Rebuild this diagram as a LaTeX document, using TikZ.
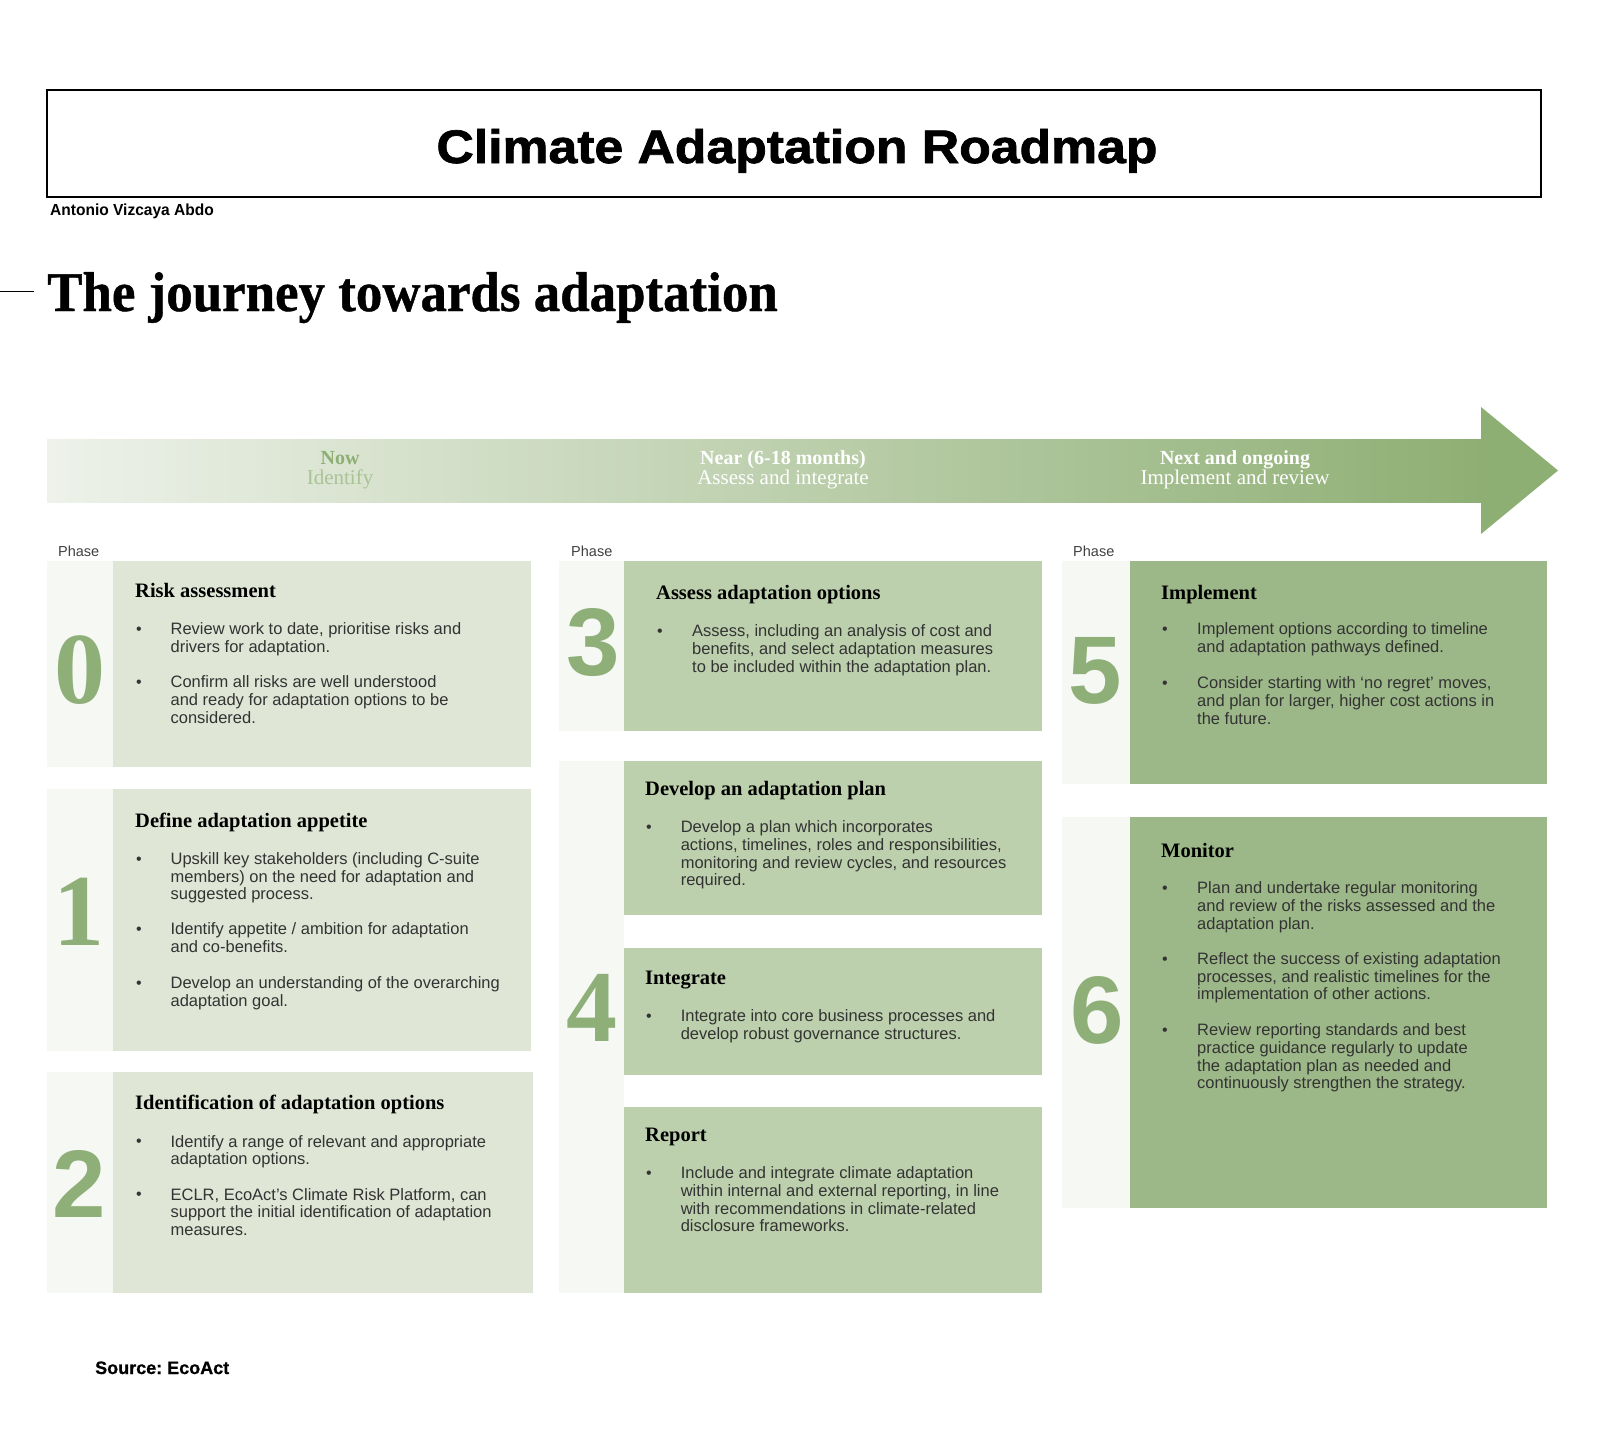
\documentclass[tikz,border=0pt]{standalone}
\usepackage{fontspec}
\setmainfont{Liberation Serif}
\setsansfont{Liberation Sans}
\definecolor{colA}{HTML}{DFE6D6}
\definecolor{colB}{HTML}{BDD0AD}
\definecolor{colC}{HTML}{9DB888}
\definecolor{stripc}{HTML}{F6F8F4}
\definecolor{arrowL}{HTML}{EEF2EA}
\definecolor{arrowM}{HTML}{C6D6B8}
\definecolor{arrowR}{HTML}{8EAF74}
\definecolor{digitc}{HTML}{8FAF78}
\definecolor{bodytxt}{HTML}{333333}
\definecolor{nowc}{HTML}{8DAF73}
\definecolor{identc}{HTML}{A9C395}
\newcommand\bulitem[5]{%
  \node[bul] (#1b) at (#2,#4+7) {•};
  \node[body] (#1) at (#3,#4-6) {\rule{0pt}{13pt}#5};
}
\frenchspacing
\begin{document}
\begin{tikzpicture}[x=1pt,y=-1pt,
  body/.style={font=\sffamily\fontsize{16.5}{17.7}\selectfont, text=bodytxt, align=left, anchor=north west, inner sep=0pt},
  boxtitle/.style={font=\rmfamily\bfseries\fontsize{20.5}{24}\selectfont, anchor=base west, inner sep=0pt, text=black},
  digser/.style={font=\rmfamily\bfseries\fontsize{102}{102}\selectfont, text=digitc, inner sep=0pt},
  digsan/.style={font=\sffamily\bfseries\fontsize{96}{96}\selectfont, text=digitc, inner sep=0pt},
  bul/.style={font=\sffamily\fontsize{16}{16}\selectfont, anchor=base, inner sep=0pt, text=bodytxt},
  phaselbl/.style={font=\sffamily\fontsize{14.5}{16}\selectfont, text=black!75, anchor=base west, inner sep=0pt},
  bandbold/.style={font=\rmfamily\bfseries\fontsize{20}{22}\selectfont, anchor=base, inner sep=0pt},
  bandreg/.style={font=\rmfamily\fontsize{21}{22}\selectfont, anchor=base, inner sep=0pt}]
\useasboundingbox (0,0) rectangle (1600,1432);
\fill[white] (0,0) rectangle (1600,1432);

% header
\draw[line width=1.5pt] (47,90) rectangle (1541,197);
\node[font=\sffamily\bfseries\fontsize{47}{50}\selectfont\addfontfeature{FakeBold=1.5}, anchor=base, inner sep=0pt] (title) at (797,163) {\scalebox{1.1}[1]{Climate Adaptation Roadmap}};
\node[font=\sffamily\bfseries\fontsize{16}{18}\selectfont, anchor=base west, inner sep=0pt] (author) at (50,215) {\scalebox{0.97}[1]{Antonio Vizcaya Abdo}};
\coordinate (dashA) at (0,291);
\coordinate (dashB) at (34,291);
\draw[line width=1pt] (dashA) -- (dashB);
\node[font=\rmfamily\bfseries\fontsize{56}{60}\selectfont\addfontfeature{FakeBold=0.8}, anchor=base west, inner sep=0pt] (journey) at (47,311) {\scalebox{0.945}[1]{The journey towards adaptation}};

% arrow band
\shade[left color=arrowL, middle color=arrowM, right color=arrowR] (47,439) rectangle (1482,502);
\fill[arrowR] (1481,407) -- (1558,470.5) -- (1481,534) -- cycle;
\node[bandbold, text=nowc] (now) at (340,464) {Now};
\node[bandreg, text=identc] (identify) at (340,484) {Identify};
\node[bandbold, text=white] (near) at (783,464) {Near (6-18 months)};
\node[bandreg, text=white] (assess) at (783,484) {Assess and integrate};
\node[bandbold, text=white] (next) at (1235,464) {Next and ongoing};
\node[bandreg, text=white] (impl) at (1235,484) {Implement and review};

% phase labels
\node[phaselbl] (ph1) at (58,556) {Phase};
\node[phaselbl] (ph2) at (571,556) {Phase};
\node[phaselbl] (ph3) at (1073,556) {Phase};

% column 1 boxes
\fill[stripc] (47,561) rectangle (113,767);
\fill[colA] (113,561) rectangle (531,767);
\fill[stripc] (47,789) rectangle (113,1051);
\fill[colA] (113,789) rectangle (531,1051);
\fill[stripc] (47,1072) rectangle (113,1293);
\fill[colA] (113,1072) rectangle (533,1293);

% column 2 boxes
\fill[stripc] (559,561) rectangle (624,731);
\fill[colB] (624,561) rectangle (1042,731);
\fill[stripc] (559,761) rectangle (624,1293);
\fill[colB] (624,761) rectangle (1042,915);
\fill[colB] (624,948) rectangle (1042,1075);
\fill[colB] (624,1107) rectangle (1042,1293);

% column 3 boxes
\fill[stripc] (1062,561) rectangle (1130,784);
\fill[colC] (1130,561) rectangle (1547,784);
\fill[stripc] (1062,817) rectangle (1130,1208);
\fill[colC] (1130,817) rectangle (1547,1208);

% digits
\node[digser] (d0) at (80,670) {0};
\node[digser] (d1) at (79,912) {1};
\node[digsan] (d2) at (79,1184) {2};
\node[digsan] (d3) at (593,643) {3};
\node[digser] (d4) at (592,1008) {4};
\node[digsan] (d5) at (1095,671) {5};
\node[digsan] (d6) at (1097,1010) {6};

% box titles
\node[boxtitle] (t0) at (135,597) {Risk assessment};
\node[boxtitle] (t1) at (135,827) {Define adaptation appetite};
\node[boxtitle] (t2) at (135,1109.5) {Identification of adaptation options};
\node[boxtitle] (t3) at (656,599) {Assess adaptation options};
\node[boxtitle] (t4a) at (645,795) {Develop an adaptation plan};
\node[boxtitle] (t4b) at (645,984) {Integrate};
\node[boxtitle] (t4c) at (645,1141) {Report};
\node[boxtitle] (t5) at (1161,599) {Implement};
\node[boxtitle] (t6) at (1161,857.5) {Monitor};

% bullets column 1
\bulitem{b0a}{139}{170.4}{627.6}{Review work to date, prioritise risks and\\drivers for adaptation.}
\bulitem{b0b}{139}{170.4}{680.6}{Confirm all risks are well understood\\and ready for adaptation options to be\\considered.}
\bulitem{b1a}{139}{170.4}{857.1}{Upskill key stakeholders (including C-suite\\members) on the need for adaptation and\\suggested process.}
\bulitem{b1b}{139}{170.4}{927.5}{Identify appetite / ambition for adaptation\\and co-benefits.}
\bulitem{b1c}{139}{170.4}{981.6}{Develop an understanding of the overarching\\adaptation goal.}
\bulitem{b2a}{139}{170.4}{1139.8}{Identify a range of relevant and appropriate\\adaptation options.}
\bulitem{b2b}{139}{170.4}{1192.9}{ECLR, EcoAct’s Climate Risk Platform, can\\support the initial identification of adaptation\\measures.}

% bullets column 2
\bulitem{b3a}{660}{692}{629.6}{Assess, including an analysis of cost and\\benefits, and select adaptation measures\\to be included within the adaptation plan.}
\bulitem{b4a}{649}{680.6}{825.5}{Develop a plan which incorporates\\actions, timelines, roles and responsibilities,\\monitoring and review cycles, and resources\\required.}
\bulitem{b4b}{649}{680.6}{1014.3}{Integrate into core business processes and\\develop robust governance structures.}
\bulitem{b4c}{649}{680.6}{1171.4}{Include and integrate climate adaptation\\within internal and external reporting, in line\\with recommendations in climate-related\\disclosure frameworks.}

% bullets column 3
\bulitem{b5a}{1165}{1197}{627.6}{Implement options according to timeline\\and adaptation pathways defined.}
\bulitem{b5b}{1165}{1197}{681.6}{Consider starting with ‘no regret’ moves,\\and plan for larger, higher cost actions in\\the future.}
\bulitem{b6a}{1165}{1197}{886.7}{Plan and undertake regular monitoring\\and review of the risks assessed and the\\adaptation plan.}
\bulitem{b6b}{1165}{1197}{957.1}{Reflect the success of existing adaptation\\processes, and realistic timelines for the\\implementation of other actions.}
\bulitem{b6c}{1165}{1197}{1028.6}{Review reporting standards and best\\practice guidance regularly to update\\the adaptation plan as needed and\\continuously strengthen the strategy.}

% source
\node[font=\sffamily\bfseries\fontsize{18}{20}\selectfont\addfontfeature{FakeBold=0.8}, anchor=base west, inner sep=0pt] (source) at (95,1374) {Source: EcoAct};
\end{tikzpicture}
\end{document}
